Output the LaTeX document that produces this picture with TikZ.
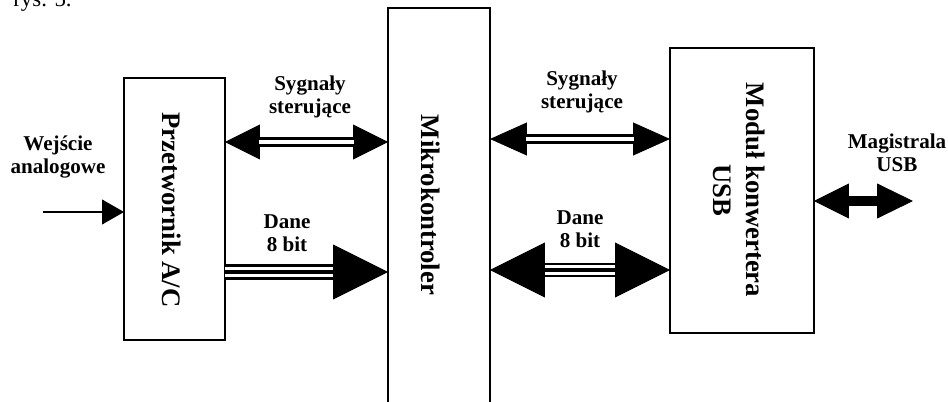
\documentclass[tikz,border=0pt]{standalone}
\usepackage{fontspec}
\setmainfont{Liberation Serif}
\usetikzlibrary{arrows.meta,calc}
\begin{document}
\begin{tikzpicture}[x=0.02cm,y=-0.02cm,
  box/.style={draw, line width=1.2pt, inner sep=0pt, outer sep=0pt},
  lbl/.style={font=\bfseries\fontsize{12}{13}\selectfont, align=center, inner sep=0pt},
  vlbl/.style={font=\bfseries\fontsize{15.2}{19}\selectfont, align=center, rotate=-90, inner sep=0pt},
  dbl/.style={line width=0.065cm, double, double distance=0.08cm},
  trpl/.style={line width=0.055cm, double, double distance=0.21cm},
  ]
\useasboundingbox (0,0) rectangle (948,402);
\clip (0,0) rectangle (948,402);

% caption fragment at top edge
\node[font=\fontsize{13}{15}\selectfont, anchor=base west, inner sep=0pt] (rys) at (13,7) {rys. 5.};

% blocks
\node[box, minimum width=2.02cm, minimum height=5.24cm] (adc) at (174.5,209) {};
\node[box, minimum width=2.04cm, minimum height=8.14cm] (mcu) at (439,211.5) {};
\node[box, minimum width=2.88cm, minimum height=5.70cm] (usb) at (742,190.5) {};

\node[vlbl] (t1) at (172,210) {Przetwornik A/C};
\node[vlbl] (t2) at (431,205) {Mikrokontroler};
\node[vlbl] (t3) at (739,190) {Moduł konwertera\\USB};

% labels
\node[lbl] (win) at (58,157) {Wejście\\analogowe};
\node[lbl] (s1) at (310,97) {Sygnały\\sterujące};
\node[lbl] (d1) at (287,233) {Dane\\8 bit};
\node[lbl] (s2) at (582,92) {Sygnały\\sterujące};
\node[lbl] (d2) at (580,229) {Dane\\8 bit};
\node[lbl] (mu) at (897,153) {Magistrala\\USB};

% rows
\coordinate (ya) at (0,142);
\coordinate (yb) at (0,272);
\coordinate (yc) at (0,139);
\coordinate (yd) at (0,270);
\coordinate (ye) at (0,201);
\coordinate (inp) at (43,212);
\coordinate (bus) at (913,201);

% analog input
\draw[line width=1.5pt, -{Triangle[length=0.44cm,width=0.5cm,line width=0.5pt]}] (inp) -- (adc.west |- inp);

% control signals ADC <-> MCU
\draw[line width=0.07cm, {Triangle[length=0.7cm,width=0.7cm,line width=0.5pt]}-{Triangle[length=0.7cm,width=0.7cm,line width=0.5pt]}] (adc.east |- ya) -- (mcu.west |- ya);
\draw[dbl, shorten <=0.68cm, shorten >=0.68cm] (adc.east |- ya) -- (mcu.west |- ya);

% data ADC -> MCU
\draw[trpl, shorten >=1.08cm] (adc.east |- yb) -- (mcu.west |- yb);
\draw[line width=0.075cm, -{Triangle[length=1.1cm,width=1.1cm,line width=0.5pt]}] (adc.east |- yb) -- (mcu.west |- yb);

% control signals MCU <-> USB
\draw[line width=0.07cm, {Triangle[length=0.74cm,width=0.66cm,line width=0.5pt]}-{Triangle[length=0.74cm,width=0.66cm,line width=0.5pt]}] (mcu.east |- yc) -- (usb.west |- yc);
\draw[line width=0.06cm, double, double distance=0.08cm, shorten <=0.72cm, shorten >=0.72cm] (mcu.east |- yc) -- (usb.west |- yc);

% data MCU <-> USB
\draw[line width=0.05cm, double, double distance=0.2cm, shorten <=1.08cm, shorten >=1.08cm] (mcu.east |- yd) -- (usb.west |- yd);
\draw[line width=0.07cm, {Triangle[length=1.1cm,width=1.1cm,line width=0.5pt]}-{Triangle[length=1.1cm,width=1.1cm,line width=0.5pt]}] (mcu.east |- yd) -- (usb.west |- yd);

% USB bus
\draw[line width=0.2cm, {Triangle[length=0.7cm,width=0.7cm,line width=0.5pt]}-{Triangle[length=0.72cm,width=0.7cm,line width=0.5pt]}] (usb.east |- ye) -- (bus);
\end{tikzpicture}
\end{document}
